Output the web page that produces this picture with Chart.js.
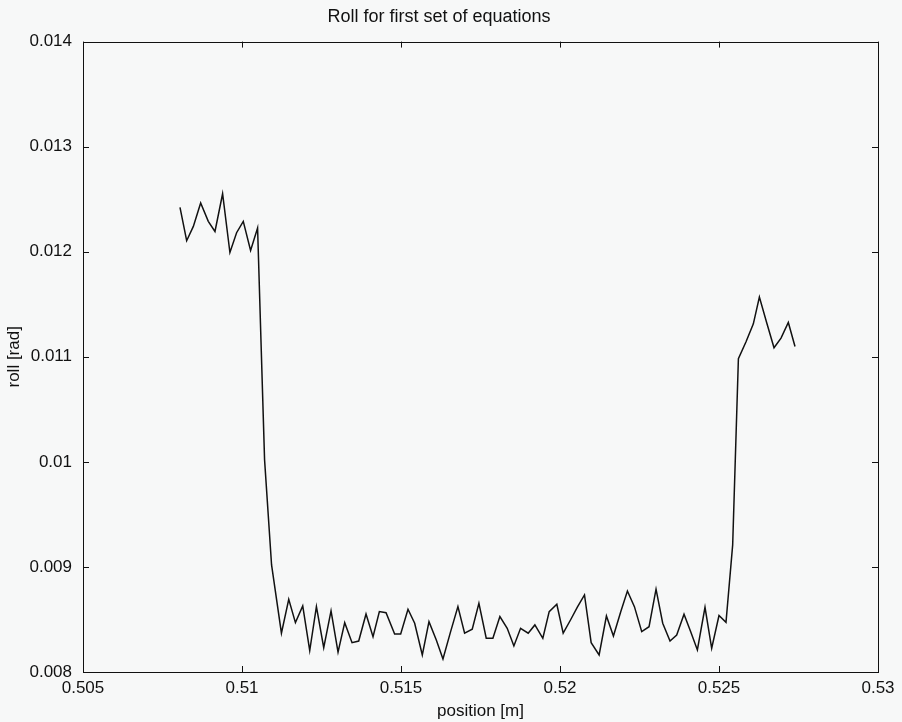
<!DOCTYPE html>
<html>
<head>
<meta charset="utf-8">
<title>Roll for first set of equations</title>
<script src="https://cdn.jsdelivr.net/npm/chart.js@4.4.1/dist/chart.umd.min.js"></script>
<style>
  html, body { margin: 0; padding: 0; background: #f7f8f8; }
  #wrap { width: 902px; height: 722px; }
</style>
</head>
<body>
<div id="wrap"><canvas id="rollChart"></canvas></div>
<script>
// position [m] of each sample
const positions = [
  0.50805, 0.50826, 0.50847, 0.50870, 0.50894, 0.50915, 0.50939, 0.50962, 0.50983, 0.51004,
  0.51027, 0.51049, 0.51071, 0.51093, 0.51124, 0.51147, 0.51168, 0.51191, 0.51213, 0.51234,
  0.51257, 0.51280, 0.51302, 0.51323, 0.51346, 0.51367, 0.51390, 0.51412, 0.51432, 0.51453,
  0.51480, 0.51499, 0.51522, 0.51543, 0.51567, 0.51588, 0.51611, 0.51632, 0.51656, 0.51679,
  0.51700, 0.51724, 0.51745, 0.51768, 0.51789, 0.51811, 0.51834, 0.51855, 0.51876, 0.51900,
  0.51921, 0.51946, 0.51966, 0.51990, 0.52010, 0.52033, 0.52055, 0.52077, 0.52098, 0.52123,
  0.52146, 0.52168, 0.52191, 0.52212, 0.52234, 0.52257, 0.52280, 0.52302, 0.52323, 0.52346,
  0.52367, 0.52390, 0.52411, 0.52432, 0.52456, 0.52477, 0.52500, 0.52522, 0.52543, 0.52561,
  0.52585, 0.52608, 0.52627, 0.52650, 0.52673, 0.52695, 0.52718, 0.52739
];

// roll [rad]
const roll = [
  0.012422, 0.012105, 0.012241, 0.012464, 0.012289, 0.012193, 0.012552, 0.011993, 0.012181, 0.012289,
  0.012012, 0.012226, 0.010019, 0.009019, 0.008369, 0.008692, 0.008470, 0.008629, 0.008203, 0.008622,
  0.008231, 0.008581, 0.008188, 0.008470, 0.008279, 0.008295, 0.008552, 0.008336, 0.008575, 0.008565,
  0.008362, 0.008362, 0.008597, 0.008464, 0.008162, 0.008479, 0.008305, 0.008124, 0.008384, 0.008622,
  0.008369, 0.008407, 0.008654, 0.008321, 0.008321, 0.008527, 0.008416, 0.008248, 0.008416, 0.008369,
  0.008448, 0.008321, 0.008574, 0.008645, 0.008369, 0.008495, 0.008619, 0.008733, 0.008279, 0.008162,
  0.008533, 0.008343, 0.008574, 0.008771, 0.008622, 0.008384, 0.008431, 0.008788, 0.008464, 0.008295,
  0.008352, 0.008550, 0.008384, 0.008210, 0.008616, 0.008226, 0.008538, 0.008473, 0.009210, 0.010981,
  0.011143, 0.011314, 0.011569, 0.011324, 0.011086, 0.011178, 0.011327, 0.011098
];

const xTicks = [0.505, 0.51, 0.515, 0.52, 0.525, 0.53];
const yTicks = [0.008, 0.009, 0.01, 0.011, 0.012, 0.013, 0.014];

const fmt = v => String(+Number(v).toFixed(4));
const ink = '#111';
const font = 'Liberation Sans, Arial, Helvetica, sans-serif';

// matlab style box with inward ticks on all four sides
const framePlugin = {
  id: 'frame',
  beforeDraw(chart) {
    const ctx = chart.ctx;
    ctx.save();
    ctx.fillStyle = '#f7f8f8';
    ctx.fillRect(0, 0, chart.width, chart.height);
    ctx.restore();
  },
  afterDraw(chart) {
    const { ctx, chartArea: a, scales } = chart;
    const len = 6;
    ctx.save();
    ctx.strokeStyle = ink;
    ctx.lineWidth = 1;
    ctx.strokeRect(Math.round(a.left) + 0.5, Math.round(a.top) + 0.5,
                   Math.round(a.width), Math.round(a.height));
    ctx.beginPath();
    xTicks.forEach(v => {
      const px = Math.round(scales.x.getPixelForValue(v)) + 0.5;
      ctx.moveTo(px, a.bottom); ctx.lineTo(px, a.bottom - len);
      ctx.moveTo(px, a.top); ctx.lineTo(px, a.top + len);
    });
    yTicks.forEach(v => {
      const py = Math.round(scales.y.getPixelForValue(v)) + 0.5;
      ctx.moveTo(a.left, py); ctx.lineTo(a.left + len, py);
      ctx.moveTo(a.right, py); ctx.lineTo(a.right - len, py);
    });
    ctx.stroke();
    ctx.restore();
  }
};

const ctx = document.getElementById('rollChart').getContext('2d');
new Chart(ctx, {
  type: 'line',
  data: {
    datasets: [{
      label: 'roll',
      data: positions.map((p, i) => ({ x: p, y: roll[i] })),
      borderColor: ink,
      borderWidth: 1.5,
      pointRadius: 0,
      fill: false,
      tension: 0
    }]
  },
  options: {
    responsive: true,
    maintainAspectRatio: false,
    animation: false,
    layout: { padding: { left: 0, right: 24, top: 0, bottom: 0 } },
    plugins: {
      legend: { display: false },
      tooltip: { enabled: false },
      title: {
        display: true,
        text: 'Roll for first set of equations',
        color: ink,
        font: { family: font, size: 18, weight: 'normal' },
        padding: { top: 6, bottom: 14 }
      }
    },
    scales: {
      x: {
        type: 'linear',
        min: 0.505,
        max: 0.53,
        afterBuildTicks: s => { s.ticks = xTicks.map(v => ({ value: v })); },
        afterFit: s => { s.height = 50; },
        grid: { display: false, drawTicks: false },
        border: { display: false },
        ticks: {
          color: ink,
          padding: 6,
          maxRotation: 0,
          font: { family: font, size: 17 },
          callback: v => fmt(v)
        },
        title: {
          display: true,
          text: 'position [m]',
          color: ink,
          font: { family: font, size: 17 },
          padding: { top: 0, bottom: 0 }
        }
      },
      y: {
        min: 0.008,
        max: 0.014,
        afterBuildTicks: s => { s.ticks = yTicks.map(v => ({ value: v })); },
        afterFit: s => { s.width = 83; },
        grid: { display: false, drawTicks: false },
        border: { display: false },
        ticks: {
          color: ink,
          padding: 11,
          font: { family: font, size: 17 },
          callback: v => fmt(v)
        },
        title: {
          display: true,
          text: 'roll [rad]',
          color: ink,
          font: { family: font, size: 17 },
          padding: { top: 4, bottom: 0 }
        }
      }
    }
  },
  plugins: [framePlugin]
});
</script>
</body>
</html>
